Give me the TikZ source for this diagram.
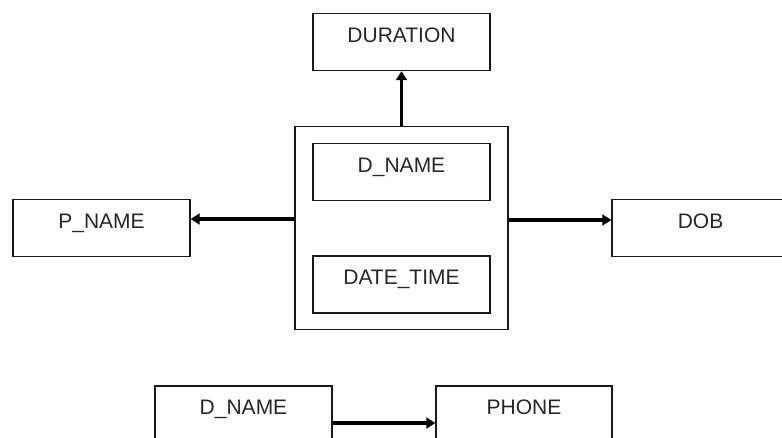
\documentclass[tikz,border=0pt]{standalone}
\usepackage{fontspec}
\setmainfont{Liberation Sans}
\usetikzlibrary{arrows.meta}
\begin{document}
\begin{tikzpicture}[x=1pt,y=-1pt,
  attr/.style={draw=black!90, line width=1.4pt, minimum width=177pt, minimum height=57pt,
    inner sep=0pt, text height=10pt, text depth=10pt, font=\fontsize{21}{24}\selectfont, text=black!85},
  outer/.style={draw=black!90, line width=1.4pt, minimum width=213pt, minimum height=203pt, inner sep=0pt},
  conn/.style={line width=3.4pt, -{Triangle[length=9pt,width=11pt]}}]
\useasboundingbox (0,0) rectangle (782,437);
\node[attr] (dur) at (401.5,42) {DURATION};
\node[outer] (big) at (401.5,228) {};
\node[attr] (dname) at (401.5,172) {D\_NAME};
\node[attr] (dt) at (401.5,284.5) {DATE\_TIME};
\node[attr] (pname) at (101.5,228) {P\_NAME};
\node[attr] (dob) at (700.5,228) {DOB};
\node[attr] (dname2) at (243.5,414.5) {D\_NAME};
\node[attr, minimum width=176pt] (phone) at (524,414.5) {PHONE};
\draw[conn] (big.north) -- (dur.south);
\draw[conn] ([yshift=9pt]big.west) -- ([yshift=9pt]pname.east);
\draw[conn] ([yshift=8pt]big.east) -- ([yshift=8pt]dob.west);
\draw[conn] ([yshift=-8.5pt]dname2.east) -- ([yshift=-8.5pt]phone.west);
\end{tikzpicture}
\end{document}
